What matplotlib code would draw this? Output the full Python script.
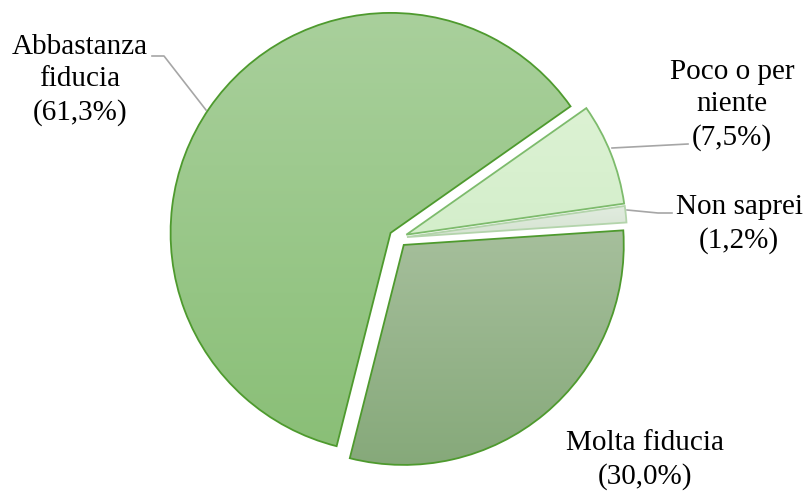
import numpy as np
import matplotlib
matplotlib.use("Agg")
import matplotlib.pyplot as plt
from matplotlib.colors import LinearSegmentedColormap

# data (counterclockwise order starting from the bottom of "Molta fiducia")
labels = ['Molta fiducia', 'Non saprei', 'Poco o per\nniente', 'Abbastanza\nfiducia']
values = [30.0, 1.2, 7.5, 61.3]
pct_txt = ['(30,0%)', '(1,2%)', '(7,5%)', '(61,3%)']

# top / bottom gradient colours and edge colours
top_cols = ['#a6bf9c', '#e2ece0', '#dcf2d3', '#a9d09c']
bot_cols = ['#86a97a', '#d5e3d1', '#d4eecb', '#8abf77']
edge_cols = ['#4e9a2e', '#b3d4ab', '#7dbb6c', '#4e9a2e']

plt.rcParams['font.family'] = ['Liberation Serif', 'DejaVu Serif']

fig = plt.figure(figsize=(8.1, 4.93), dpi=100)
ax = fig.add_axes([0, 0, 1, 1])

cx, cy, R = 398, 255, 220
# explode is in data units here (radius is in pixels)
wedges, _ = ax.pie(values, explode=[9] * 4, startangle=-104.2, counterclock=True,
                   radius=R, center=(cx, cy), frame=True,
                   wedgeprops=dict(linewidth=1.3))

#gradient fill clipped to each wedge
for w, t, b, e in zip(wedges, top_cols, bot_cols, edge_cols):
    w.set_facecolor('none')
    w.set_edgecolor(e)
    w.set_zorder(3)
    bb = w.get_path().get_extents(w.get_transform())
    bb = bb.transformed(ax.transData.inverted())
    cm = LinearSegmentedColormap.from_list('g', [b, t])
    grad = np.linspace(0, 1, 256).reshape(-1, 1)
    im = ax.imshow(grad, extent=[bb.x0, bb.x1, bb.y0, bb.y1], origin='lower',
                   cmap=cm, aspect='auto', zorder=2)
    im.set_clip_path(w)

H = 493
# leader lines (pixel coords from top)
lead = [
    [(152, 56), (164, 56), (206, 110)],
    [(612, 148), (688, 144)],
    [(627, 210), (658, 213), (672, 213)],
]
for pts in lead:
    xs = [p[0] for p in pts]
    ys = [H - p[1] for p in pts]
    ax.plot(xs, ys, color='#a6a6a6', lw=1.2, zorder=1)

fs = 21
txt_pos = [(645, 460), (739, 224), (732, 105), (80, 80)]
for lab, p, (tx, ty) in zip(labels, pct_txt, txt_pos):
    ax.text(tx, H - ty, lab + '\n' + p, ha='center', va='center', fontsize=fs,
            linespacing=1.3, multialignment='center')

ax.set_xlim(0, 810)
ax.set_ylim(0, H)
ax.set_aspect('equal')
ax.axis('off')

plt.savefig('out.png', dpi=100)
